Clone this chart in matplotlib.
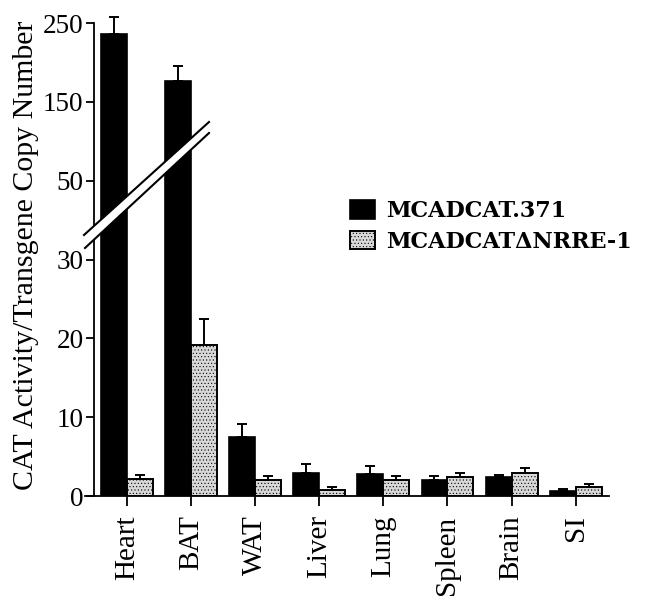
import numpy as np
import matplotlib
matplotlib.use("Agg")
import matplotlib.pyplot as plt
from matplotlib.lines import Line2D
from matplotlib.patches import Polygon
from matplotlib.ticker import NullLocator, FixedLocator

plt.rcParams['font.family'] = ['Liberation Serif', 'DejaVu Serif']
plt.rcParams['hatch.linewidth'] = 0.4

# data
tissues = ['Heart', 'BAT', 'WAT', 'Liver', 'Lung', 'Spleen', 'Brain', 'SI']
mcad371 = [236, 177, 7.5, 2.9, 2.8, 2.0, 2.4, 0.6]
mcad371_err = [22, 19, 1.6, 1.15, 1.0, 0.5, 0.25, 0.3]
nrre1 = [2.15, 19.1, 2.0, 0.75, 2.0, 2.4, 2.9, 1.1]
nrre1_err = [0.5, 3.4, 0.6, 0.4, 0.5, 0.5, 0.6, 0.4]
yticks = [0, 10, 20, 30, 50, 150, 250]
labels = ['MCADCAT.371', 'MCADCAT\u0394NRRE-1']


# broken axis : 0-30 linear, then 50-250 compressed
def fwd(v):
    v = np.asarray(v, float)
    return np.where(v <= 30, v / 10, np.where(v <= 50, 3 + (v - 30) / 20, 4 + (v - 50) / 100))


def inv(y):
    y = np.asarray(y, float)
    return np.where(y <= 3, y * 10, np.where(y <= 4, 30 + (y - 3) * 20, 50 + (y - 4) * 100))


W, H = 645, 599
fig = plt.figure(figsize=(W / 100, H / 100), dpi=100)
px_unit = 78.83
top_px = 496 - 6.1 * px_unit
ax = fig.add_axes([85 / W, 1 - 496 / H, (609 - 85) / W, (496 - top_px) / H])

x = np.arange(len(tissues))
w = 0.405
zeros = np.zeros(len(tissues))

b1 = ax.bar(x - w / 2, mcad371, w, color='black', edgecolor='black', linewidth=1.2,
            yerr=[zeros, mcad371_err], capsize=3.6,
            error_kw=dict(ecolor='black', elinewidth=1.4, capthick=1.4, clip_on=False))
b2 = ax.bar(x + w / 2, nrre1, w, color='#d8d8d8', edgecolor='black', linewidth=1.4,
            hatch='.....', yerr=[zeros, nrre1_err], capsize=3.6,
            error_kw=dict(ecolor='black', elinewidth=1.4, capthick=1.4, clip_on=False))

ax.set_yscale('function', functions=(fwd, inv))
ax.set_ylim(0, 260)
ax.set_xlim(-0.655, 7.52)
ax.yaxis.set_major_locator(FixedLocator(yticks))
ax.yaxis.set_minor_locator(NullLocator())
ax.set_yticks(yticks)
ax.set_yticklabels([str(t) for t in yticks])

ax.set_xticks(x)
ax.set_xticklabels(tissues, rotation=90)

for s in ['top', 'right']:
    ax.spines[s].set_visible(False)
ax.spines['left'].set_position(('data', -0.515))
ax.spines['left'].set_bounds(0, 250)
ax.spines['left'].set_linewidth(1.3)
ax.spines['bottom'].set_linewidth(1.3)
ax.tick_params(axis='both', direction='out', width=1.3, colors='black')
ax.tick_params(axis='y', length=6, pad=1.5, labelsize=19.5)
ax.tick_params(axis='x', length=7, pad=7, labelsize=21)

ax.set_ylabel('CAT Activity/Transgene Copy Number', fontsize=21.5, labelpad=3)

# the white break band drawn over the bars
def fp(px, py):
    return (px / W, 1 - py / H)

band = Polygon([fp(84, 235), fp(209, 122), fp(209, 133), fp(85, 248)], closed=True,
               facecolor='white', edgecolor='none', transform=fig.transFigure, zorder=5)
fig.patches.append(band)
for (a, b) in [((84, 235), (209, 122)), ((85, 248), (209, 133))]:
    fig.lines.append(Line2D([fp(*a)[0], fp(*b)[0]], [fp(*a)[1], fp(*b)[1]],
                            color='black', lw=1.5, transform=fig.transFigure, zorder=6))

leg = ax.legend([b1, b2], labels, loc='upper left', bbox_to_anchor=fp(350, 200),
                bbox_transform=fig.transFigure, frameon=False, borderpad=0, borderaxespad=0,
                handlelength=1.12, handleheight=0.9, handletextpad=0.52, labelspacing=0.4,
                prop=dict(family='DejaVu Serif', size=16, weight='bold'))

fig.savefig('out.png', dpi=100)
